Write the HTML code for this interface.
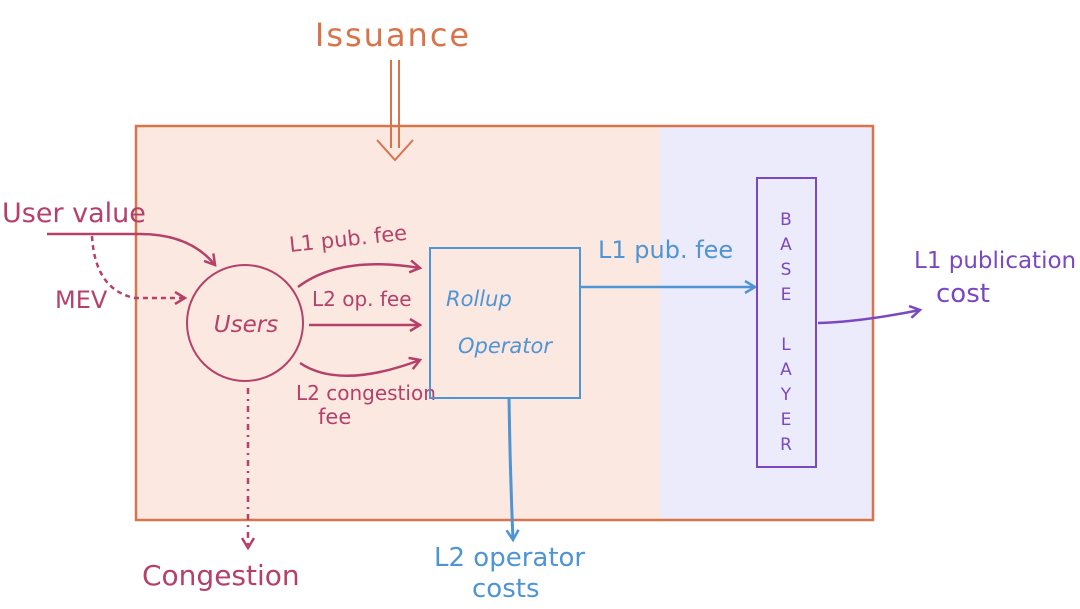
<!DOCTYPE html>
<html><head><meta charset="utf-8"><style>
html,body{margin:0;padding:0;background:#fff;}
svg{display:block}
text{font-family:"DejaVu Sans","Liberation Sans",sans-serif;}
</style></head><body>
<svg width="1080" height="609" viewBox="0 0 1080 609" xmlns="http://www.w3.org/2000/svg">
<defs>
<marker id="am" markerWidth="14" markerHeight="14" refX="11" refY="7" orient="auto" markerUnits="userSpaceOnUse"><path d="M1,1 L11,7 L1,13" fill="none" stroke="#b5406a" stroke-width="2.5"/></marker>
<marker id="ab" markerWidth="14" markerHeight="14" refX="11" refY="7" orient="auto" markerUnits="userSpaceOnUse"><path d="M1,1 L11,7 L1,13" fill="none" stroke="#4f94d4" stroke-width="2.5"/></marker>
<marker id="ap" markerWidth="14" markerHeight="14" refX="11" refY="7" orient="auto" markerUnits="userSpaceOnUse"><path d="M1,1 L11,7 L1,13" fill="none" stroke="#7a48c0" stroke-width="2.5"/></marker>
</defs>
<rect x="136" y="126" width="524" height="394" fill="#fbe9e1"/>
<rect x="660" y="126" width="213" height="394" fill="#ecebfb"/>
<rect x="136" y="126" width="737" height="394" fill="none" stroke="#d9734a" stroke-width="2.5"/>
<text x="393" y="46" font-size="32" fill="#d9734a" text-anchor="middle" letter-spacing="2">Issuance</text>
<path d="M391,60 V148 M399,60 V148" stroke="#d9734a" stroke-width="2" fill="none"/>
<path d="M377,140 L395,160 L413,140" stroke="#d9734a" stroke-width="2" fill="none"/>
<circle cx="245" cy="323" r="58" fill="none" stroke="#b5406a" stroke-width="2"/>
<text x="246" y="332" font-size="23" fill="#b5406a" text-anchor="middle" font-style="italic">Users</text>
<text x="2" y="222" font-size="27" fill="#b5406a">User value</text>
<path d="M47,234 H140 Q190,234 215,265" stroke="#b5406a" stroke-width="2.5" fill="none" marker-end="url(#am)"/>
<path d="M92,236 Q95,290 135,298 H185" stroke="#b5406a" stroke-width="2.5" fill="none" stroke-dasharray="5,4" marker-end="url(#am)"/>
<text x="55" y="308" font-size="24" fill="#b5406a">MEV</text>
<path d="M298,287 Q340,255 420,268" stroke="#b5406a" stroke-width="2.5" fill="none" marker-end="url(#am)"/>
<path d="M309,325 H420" stroke="#b5406a" stroke-width="2.5" fill="none" marker-end="url(#am)"/>
<path d="M300,363 Q340,390 420,360" stroke="#b5406a" stroke-width="2.5" fill="none" marker-end="url(#am)"/>
<text x="290" y="252" font-size="21" fill="#b5406a" transform="rotate(-6 290 252)">L1 pub. fee</text>
<text x="312" y="306" font-size="20" fill="#b5406a">L2 op. fee</text>
<text x="296" y="400" font-size="20" fill="#b5406a">L2 congestion</text>
<text x="318" y="424" font-size="21" fill="#b5406a">fee</text>
<path d="M248,388 V548" stroke="#b5406a" stroke-width="2.5" fill="none" stroke-dasharray="6,5,2,5" marker-end="url(#am)"/>
<text x="142" y="585" font-size="28" fill="#b5406a">Congestion</text>
<rect x="430" y="248" width="150" height="150" fill="none" stroke="#4f94d4" stroke-width="2"/>
<text x="446" y="306" font-size="21" fill="#4f94d4" font-style="italic">Rollup</text>
<text x="458" y="353" font-size="21" fill="#4f94d4" font-style="italic">Operator</text>
<path d="M580,287 H755" stroke="#4f94d4" stroke-width="2.5" fill="none" marker-end="url(#ab)"/>
<text x="598" y="258" font-size="24" fill="#4f94d4">L1 pub. fee</text>
<path d="M509,398 Q510,470 513,540" stroke="#4f94d4" stroke-width="3" fill="none" marker-end="url(#ab)"/>
<text x="434" y="566" font-size="26" fill="#4f94d4">L2 operator</text>
<text x="472" y="597" font-size="26" fill="#4f94d4">costs</text>
<rect x="757" y="178" width="59" height="289" fill="none" stroke="#7a48c0" stroke-width="2"/>
<g font-size="17" fill="#7a48c0" text-anchor="middle">
<text x="786" y="225">B</text><text x="786" y="250">A</text><text x="786" y="275">S</text><text x="786" y="300">E</text>
<text x="786" y="350">L</text><text x="786" y="375">A</text><text x="786" y="400">Y</text><text x="786" y="425">E</text><text x="786" y="450">R</text>
</g>
<path d="M818,323 Q860,322 920,310" stroke="#7a48c0" stroke-width="2.5" fill="none" marker-end="url(#ap)"/>
<text x="914" y="268" font-size="23" fill="#7a48c0">L1 publication</text>
<text x="936" y="302" font-size="26" fill="#7a48c0">cost</text>
</svg>
</body></html>
